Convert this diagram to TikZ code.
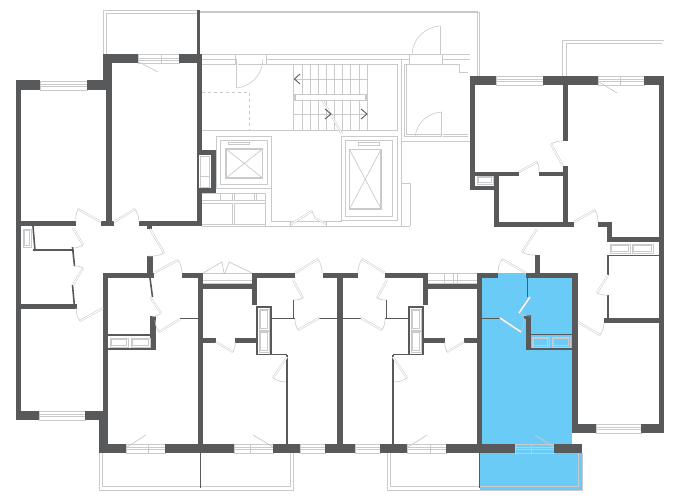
\documentclass[tikz,border=0pt]{standalone}
\usepackage{tikz}
\definecolor{wallgray}{HTML}{58595B}
\definecolor{linegray}{HTML}{C9CACB}
\definecolor{flatblue}{HTML}{6ACCF6}
\tikzstyle{wall}=[fill=wallgray,draw=none]
\tikzstyle{thin wall}=[draw=wallgray,line width=1.6pt]
\tikzstyle{plan}=[draw=linegray,line width=.7pt]
\tikzstyle{heavy plan}=[draw=linegray,line width=1.4pt]
\tikzstyle{leaf}=[draw=linegray,line width=.5pt,double=white,double distance=1pt]
\tikzstyle{swing}=[draw=linegray,line width=.6pt]
\tikzstyle{chevron}=[draw=wallgray,line width=.9pt]
\newcommand{\glass}[3]{%
  \draw[plan] (#1,#3) rectangle (#2,#3+9);
  \draw[plan] (#1,#3+3.5) -- (#2,#3+3.5) (#1,#3+5.5) -- (#2,#3+5.5);}
\newcommand{\tub}[4]{%
  \draw[plan] (#1,#2) rectangle (#3,#4);
  \draw[plan] (#1+1.5,#2+1.5) rectangle (#3-1.5,#4-1.5);}
\begin{document}
\begin{tikzpicture}[x=1pt,y=-1pt]
  \useasboundingbox (0,0) rectangle (680,500);
  \fill[flatblue] (482,273) rectangle (572,444);
  \fill[flatblue] (480,453) rectangle (582,490);
  \fill[flatblue] (482,444) rectangle (572,453);
  % stair core
  \draw[plan] (199,11) -- (477,11) -- (477,76);
  \draw[plan] (199,12.5) -- (479.5,12.5) -- (479.5,76);
  \draw[plan] (202,54.5) -- (470,54.5);
  \draw[plan] (202,59) -- (235,59) (266,59) -- (409,59) (442,59) -- (470,59);
  \draw[plan] (235,54.5) -- (235,64) (266,54.5) -- (266,64);
  \draw[plan] (202,64) -- (397,64) -- (397,130) -- (202,130);
  \draw[plan,dashed] (202,92.5) -- (249.5,92.5) -- (249.5,130);
  \draw[leaf] (237,59) -- (237,88);
  \draw[swing] (237,88) to[bend right=40] (263,59);
  \draw[plan] (293,64) rectangle (367,130);
  \foreach \xa in {302.3,310.7,318.7,326.7,334.7,342.7,350.7,359.3}
    \draw[plan] (\xa,64) -- (\xa,94) (\xa,101) -- (\xa,130);
  \draw[plan] (293,79) -- (367,79) (293,114) -- (367,114);
  \draw[heavy plan,fill=white] (295,94.5) rectangle (366,100.5);
  \draw[leaf] (323,101) -- (342,134);
  \draw[chevron] (300,74) -- (294.5,79) -- (300,84);
  \draw[chevron] (325,109) -- (331,114) -- (325,119);
  \draw[chevron] (361,109) -- (367,114) -- (361,119);
  % hall on the right
  \draw[plan] (401,59) -- (401,226);
  \draw[plan] (404,64) -- (404,136.5) -- (468,136.5);
  \draw[plan] (406,64) -- (406,134.5) -- (468,134.5);
  \draw[plan] (404,64) -- (459,64) -- (459,72) -- (468,72);
  \draw[plan] (401,141) -- (470,141);
  \draw[plan] (409,54.5) -- (409,64) (442,54.5) -- (442,64);
  \draw[leaf] (439.5,54) -- (439.5,26);
  \draw[swing] (439.5,26) to[bend right=40] (412,54);
  \draw[leaf] (442,137) -- (442,112);
  \draw[swing] (442,112) to[bend right=40] (415,137);
  \draw[plan] (401,183) -- (410,183) -- (410,226);
  \draw[plan] (202,226) -- (410,226);
  % lifts
  \draw[plan] (216,136) -- (271,136) -- (271,221) -- (341,221) -- (341,136) -- (397,136) -- (397,221);
  \draw[plan] (216,136) -- (216,188) -- (271,188);
  \draw[plan] (220,140) rectangle (267,184);
  \draw[heavy plan] (226,149) rectangle (262.5,178);
  \draw[plan] (226,149) -- (262.5,178) (226,178) -- (262.5,149);
  \draw[plan] (228,142) rectangle (249,144.5);
  \draw[plan] (345,140) rectangle (392,216.5);
  \draw[plan] (341,220) -- (397,220);
  \draw[heavy plan] (349.5,149.5) rectangle (381,209);
  \draw[plan] (349.5,149.5) -- (381,209) (349.5,209) -- (381,149.5);
  \draw[plan] (358,142) rectangle (379,145.5);
  % service rooms
  \draw[plan] (202,193) -- (265,193) (202,200) -- (265,200) (202,203) -- (232,203) (234,203) -- (265,203) (202,224) -- (265,224);
  \draw[plan] (232,203) -- (232,224) (234,203) -- (234,224) (265,193) -- (265,226);
  \draw[plan] (220,193) -- (220,200) (232,193) -- (232,200) (234,193) -- (234,200) (254,193) -- (254,200) (256,193) -- (256,200);
  \draw[leaf] (290,225) -- (312,211);
  \draw[swing] (312,211) -- (315,218);
  \draw[leaf] (315,218) -- (326,224);
  \draw[plan] (290,221) -- (290,226) (326,221) -- (326,226);
  % balconies
  \draw[plan] (103,54) -- (103,10) -- (197,10);
  \draw[plan] (106.5,54) -- (106.5,13.5) -- (197,13.5);
  \draw[plan] (562,76) -- (562,40) -- (664,40);
  \draw[plan] (566,76) -- (566,43) -- (662,43);
  \draw[plan] (99,453) -- (99,490) -- (293.5,490) -- (293.5,453);
  \draw[plan] (102.7,453) -- (102.7,486) -- (290,486) -- (290,453);
  \draw[plan] (387,453) -- (387,490) -- (582,490) -- (582,453);
  \draw[plan] (390.7,453) -- (390.7,486.5) -- (578,486.5) -- (578,453);
  % windows
  \glass{40}{87}{81}
  \glass{39}{85}{411}
  \glass{138}{179}{54.5}
  \glass{496}{543}{76}
  \glass{598}{644}{76}
  \glass{596}{641}{424}
  \glass{126}{165}{444}
  \glass{234}{273}{444}
  \glass{300}{325}{444}
  \glass{355}{380}{444}
  \glass{407}{446}{444}
  \glass{515}{554}{444}
  \draw[plan] (161,54.5) -- (161,63.5) (620,76) -- (620,85) (148.5,444) -- (148.5,453) (250,444) -- (250,453) (430,444) -- (430,453) (531.5,444) -- (531.5,453);
  \draw[plan] (139,62) -- (158,72) (599,82) -- (617,93) (127,447) -- (146,435) (273,447) -- (253,435) (408,447) -- (427,435) (554,447) -- (535,435);
  % strips in the corridor
  \draw[plan] (203,273) -- (252,273) (428,273) -- (477,273);
  \draw[plan] (203,283.5) -- (252,283.5) (428,283.5) -- (477,283.5) (203,280) -- (252,280) (428,280) -- (477,280);
  \draw[plan] (444,273) -- (444,283) (453,273) -- (453,283) (457,273) -- (457,283);
  \draw[plan] (203,273) -- (222,262) -- (224,273) (225,273) -- (229,262) -- (252,273);
  % walls
  \foreach \xa/\ya/\xb/\yb in {
    16/80/21/420, 16/80/40/90, 87/80/112/90, 103/54/112/90, 106/90/112/226,
    103/54/138/63, 179/54/202/63, 197/54/202/226, 197/10/200/54,
    21/221/76/226, 101/221/114/226, 139/221/202/226, 147/226/152/229,
    21/304/77/309, 16/411/39/420, 85/411/108/420,
    99/411/108/453, 103/273/108/411, 103/273/154/278, 147/256/153/278, 182/273/203/278,
    99/444/126/453, 165/444/234/453, 198/273/203/444,
    273/444/300/453, 325/444/355/453, 380/444/407/453, 446/444/515/453, 554/444/582/453,
    252/273/295/278, 323/273/358/278, 337/273/343/444, 385/273/428/278,
    252/273/257/305, 423/273/428/305, 203/284/257/289, 423/284/477/289,
    203/338/216/343, 235/338/257/343, 423/338/445/343, 464/338/477/343,
    477/273/482/444, 477/273/498/278, 526/273/578/278, 535/255/540/273,
    572/273/578/433, 578/424/596/433, 641/424/664/433, 659/76/664/433,
    526/315/531/350, 524/316/531/319,
    150/316/156/350, 604/318/664/323,
    470/76/496/85, 543/76/598/85, 644/76/664/85, 470/76/475/190, 470/186/499/190,
    494/172/499/227, 475/172/519/176, 539/172/568/176, 563/85/568/141, 563/166/568/227,
    494/222/574/227, 598/222/612/227, 607/222/612/242, 607/237/664/242}
    \fill[wall] (\xa,\ya) rectangle (\xb,\yb);
  \foreach \xa/\ya/\xb/\yb in {
    72.5/247/74.5/266, 72.5/285/74.5/307, 33/226/35/251, 33/250/74/250,
    150/278/152.5/297, 180/318.5/198/318.5, 271/318.5/295/318.5, 319/318.5/337/318.5,
    343/318.5/361/318.5, 385/318.5/409/318.5, 482/318.5/500/318.5,
    293.5/300/293.5/318, 386.5/300/386.5/318, 287/355/287/382, 287/382/287/444,
    393/355/393/444, 608/255/608/275, 608/295/608/318, 609/255.5/659/255.5,
    527.5/278/527.5/297}
    \draw[thin wall] (\xa,\ya) -- (\xb,\yb);
  \draw[thin wall] (108,335) -- (155,335) (108,349) -- (155,349);
  \draw[thin wall] (257,307) rectangle (271,354.5);
  \draw[thin wall] (409,307) rectangle (423,354.5);
  \draw[thin wall] (257,354.5) -- (287,354.5) (393,354.5) -- (423,354.5);
  \draw[thin wall] (526,334.5) -- (572,334.5) (526,349) -- (572,349);
  \draw[thin wall] (200.5,453) -- (200.5,488) (479.5,453) -- (479.5,488);
  % service cupboards
  \fill[wall] (197,150) rectangle (216,193);
  \fill[white] (199,155) rectangle (211,188);
  \draw[plan] (200,156) rectangle (209,176);
  \draw[plan] (200,176) rectangle (209,187);
  \tub{23}{229}{31}{247}
  \tub{477}{176}{493}{184}
  \tub{110}{338}{128}{347}
  \tub{131}{338}{150}{347}
  \tub{259}{309}{269}{330}
  \tub{259}{331}{269}{352}
  \tub{411}{309}{421}{330}
  \tub{411}{331}{421}{352}
  \tub{610}{244}{630}{253}
  \tub{632}{244}{653}{253}
  \tub{532}{337}{549}{347}
  \tub{552}{337}{570}{347}
  % doors
  \foreach \hx/\hy/\tx/\ty/\ex/\ey/\side in {
    101/222/78/209/76/222/-15, 114/222/135/209/139/222/15, 150/229/164/253/148/256/15,
    73/228/83/245/73/248/15, 73/285/83/268/73/266/-15, 103/308/80/321/76/308/15,
    154/273/178/260/182/273/15, 150/297/161/313/152/317/15, 180/319/159/332/155/320/15,
    216/342/233/352/235/342/-15,
    295/273/318/259/322/273/15, 293/280/303/298/294/300/15, 319/318/298/330/295/319/15,
    287/357/273/378/286/382/-15,
    385/273/362/259/358/273/-15, 387/280/377/298/386/300/-15, 361/318/382/330/385/319/-15,
    393/357/407/378/394/382/15, 464/342/447/352/445/342/15,
    526/273/502/259/498/273/-15, 530/297/519/313/530/316/-15, 500/318/521/332/524/318/-15,
    578/322/600/335/604/323/-15, 608/275/597/293/608/295/-15, 537/229/522/252/535/255/-15,
    519/172/537/162/539/172/15, 563/166/551/144/563/141/15, 574/222/595/210/598/222/15}{
    \draw[leaf] (\hx,\hy) -- (\tx,\ty);
    \draw[swing] (\tx,\ty) to[bend left=\side] (\ex,\ey);
  }
\end{tikzpicture}
\end{document}
